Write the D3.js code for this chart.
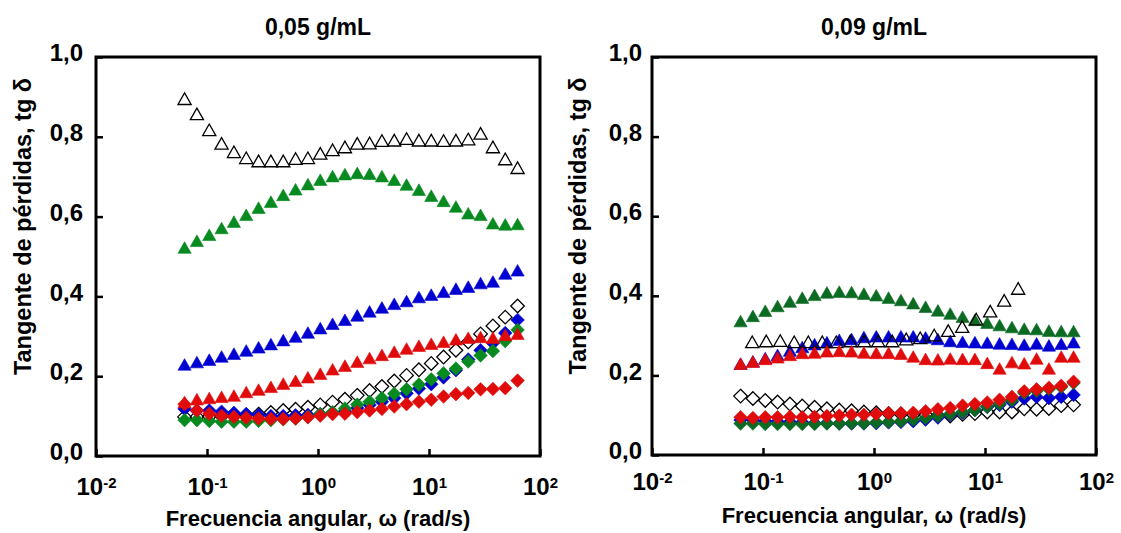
<!DOCTYPE html>
<html>
<head>
<meta charset="utf-8">
<script src="https://cdn.jsdelivr.net/npm/d3@7"></script>
<style>
  body { margin: 0; background: #fff; }
  svg text { font-family: "Liberation Sans", Arial, sans-serif; font-weight: bold; fill: #000; }
</style>
</head>
<body>
<div id="chart"></div>
<script>
// Frecuencias (rad/s) de las series principales
const freq = [0.0628, 0.0811, 0.1048, 0.1353, 0.1748, 0.2257, 0.2915, 0.3765, 0.4862,
  0.628, 0.811, 1.048, 1.353, 1.748, 2.257, 2.915, 3.765, 4.862,
  6.28, 8.11, 10.48, 13.53, 17.48, 22.57, 29.15, 37.65, 48.62, 62.8];
// Frecuencias de los triangulos abiertos en 0,09 g/mL
const freqTri09 = [0.080, 0.107, 0.143, 0.191, 0.256, 0.342, 0.457, 0.611, 0.816, 1.091,
  1.459, 1.951, 2.608, 3.486, 4.661, 6.231, 8.330, 11.14, 14.89, 19.9];

const xTicks = [0.01, 0.1, 1, 10, 100];
const yTicks = [0, 0.2, 0.4, 0.6, 0.8, 1.0];

// 0,05 g/mL
const openTri005 = [0.895, 0.857, 0.817, 0.783, 0.762, 0.747, 0.739, 0.739, 0.739, 0.745, 0.747, 0.758, 0.767, 0.774,
  0.783, 0.784, 0.790, 0.791, 0.795, 0.791, 0.791, 0.790, 0.791, 0.794, 0.808, 0.774, 0.744, 0.722];
const greenTri005 = [0.522, 0.539, 0.554, 0.571, 0.587, 0.604, 0.622, 0.637, 0.654, 0.668, 0.681, 0.692, 0.701, 0.706,
  0.709, 0.707, 0.701, 0.692, 0.680, 0.667, 0.652, 0.639, 0.625, 0.608, 0.604, 0.583, 0.580, 0.581];
const blueTri005 = [0.229, 0.235, 0.241, 0.249, 0.256, 0.264, 0.272, 0.280, 0.290, 0.299, 0.309, 0.320, 0.331, 0.341,
  0.352, 0.362, 0.372, 0.381, 0.388, 0.398, 0.404, 0.411, 0.419, 0.424, 0.433, 0.437, 0.457, 0.465];
const redTri005 = [0.135, 0.142, 0.145, 0.148, 0.151, 0.160, 0.166, 0.173, 0.181, 0.188, 0.197, 0.206, 0.217, 0.226,
  0.236, 0.245, 0.253, 0.261, 0.269, 0.276, 0.281, 0.286, 0.292, 0.296, 0.298, 0.296, 0.303, 0.306];
const openDia005 = [0.098, 0.098, 0.099, 0.100, 0.102, 0.103, 0.105, 0.109, 0.114, 0.117, 0.122, 0.128, 0.135, 0.142,
  0.152, 0.164, 0.174, 0.188, 0.202, 0.216, 0.232, 0.248, 0.265, 0.286, 0.306, 0.326, 0.348, 0.376];
const blueDia005 = [0.118, 0.114, 0.114, 0.111, 0.108, 0.105, 0.103, 0.100, 0.100, 0.102, 0.103, 0.105, 0.108, 0.112,
  0.120, 0.128, 0.136, 0.145, 0.157, 0.169, 0.180, 0.197, 0.215, 0.242, 0.265, 0.283, 0.308, 0.341];
const greenDia005 = [0.090, 0.090, 0.088, 0.086, 0.086, 0.086, 0.088, 0.090, 0.092, 0.094, 0.098, 0.105, 0.110, 0.119,
  0.129, 0.136, 0.145, 0.156, 0.167, 0.179, 0.192, 0.207, 0.219, 0.237, 0.252, 0.263, 0.288, 0.316];
const redDia005 = [0.130, 0.114, 0.106, 0.101, 0.098, 0.096, 0.094, 0.093, 0.093, 0.094, 0.097, 0.101, 0.105, 0.106,
  0.110, 0.114, 0.118, 0.124, 0.130, 0.136, 0.141, 0.149, 0.155, 0.158, 0.167, 0.168, 0.170, 0.189];

// 0,09 g/mL
const openTri009 = [0.284, 0.286, 0.287, 0.284, 0.284, 0.284, 0.284, 0.286, 0.286, 0.286,
  0.286, 0.291, 0.294, 0.301, 0.312, 0.322, 0.341, 0.361, 0.388, 0.418];
const greenTri009 = [0.336, 0.349, 0.362, 0.374, 0.385, 0.395, 0.402, 0.408, 0.410, 0.409, 0.405, 0.401, 0.395, 0.389,
  0.381, 0.372, 0.363, 0.355, 0.347, 0.339, 0.332, 0.326, 0.321, 0.317, 0.316, 0.312, 0.311, 0.311];
const blueTri009 = [0.229, 0.235, 0.243, 0.251, 0.262, 0.271, 0.278, 0.283, 0.289, 0.291, 0.296, 0.298, 0.298, 0.298,
  0.298, 0.295, 0.291, 0.286, 0.284, 0.283, 0.282, 0.280, 0.279, 0.277, 0.280, 0.275, 0.279, 0.283];
const redTri009 = [0.229, 0.234, 0.241, 0.245, 0.251, 0.256, 0.257, 0.260, 0.261, 0.260, 0.257, 0.256, 0.256, 0.254,
  0.247, 0.241, 0.240, 0.242, 0.241, 0.241, 0.231, 0.217, 0.233, 0.230, 0.242, 0.217, 0.247, 0.247];
const openDia009 = [0.148, 0.142, 0.137, 0.133, 0.128, 0.123, 0.120, 0.116, 0.113, 0.111, 0.108, 0.106, 0.104, 0.103,
  0.102, 0.101, 0.099, 0.098, 0.102, 0.104, 0.108, 0.108, 0.108, 0.116, 0.115, 0.117, 0.124, 0.126];
const blueDia009 = [0.088, 0.088, 0.085, 0.084, 0.083, 0.082, 0.080, 0.080, 0.079, 0.079, 0.079, 0.080, 0.082, 0.083,
  0.085, 0.089, 0.094, 0.101, 0.106, 0.113, 0.121, 0.126, 0.134, 0.142, 0.146, 0.143, 0.146, 0.151];
const greenDia009 = [0.079, 0.079, 0.078, 0.078, 0.078, 0.078, 0.078, 0.079, 0.079, 0.080, 0.080, 0.082, 0.083, 0.085,
  0.089, 0.093, 0.098, 0.103, 0.108, 0.113, 0.121, 0.129, 0.138, 0.156, 0.161, 0.166, 0.171, 0.181];
const redDia009 = [0.095, 0.093, 0.095, 0.095, 0.096, 0.095, 0.096, 0.098, 0.099, 0.101, 0.101, 0.103, 0.105, 0.105,
  0.106, 0.110, 0.115, 0.118, 0.124, 0.128, 0.132, 0.139, 0.146, 0.160, 0.165, 0.169, 0.174, 0.184];

const blue = "#0000d2";
const red = "#e00c0c";

const svg = d3.select("#chart")
  .append("svg")
  .attr("width", 1121)
  .attr("height", 533);

// marker shapes (centered on the point)
const triPath = "M0,-6L6.6,5.6L-6.6,5.6Z";
const diaPath = "M0,-6.8L6.8,0L0,6.8L-6.8,0Z";

const panels = [
  {
    title: "0,05 g/mL",
    left: 96, right: 540, top: 57, bottom: 456,
    yPad: 13, xPad: 22, titleY: 35, yTitleX: 31, xTitleY: 526,
    green: "#078a1f",
    series: [
      { x: freq, v: blueTri005, shape: "tri", color: blue },
      { x: freq, v: greenTri005, shape: "tri", color: "green" },
      { x: freq, v: openTri005, shape: "tri", open: true },
      { x: freq, v: openDia005, shape: "dia", open: true },
      { x: freq, v: blueDia005, shape: "dia", color: blue },
      { x: freq, v: greenDia005, shape: "dia", color: "green" },
      { x: freq, v: redTri005, shape: "tri", color: red },
      { x: freq, v: redDia005, shape: "dia", color: red },
    ],
  },
  {
    title: "0,09 g/mL",
    left: 652, right: 1096, top: 57, bottom: 455,
    yPad: 10, xPad: 18, titleY: 35, yTitleX: 586, xTitleY: 523,
    green: "#0b6b22",
    series: [
      { x: freq, v: blueTri009, shape: "tri", color: blue },
      { x: freq, v: greenTri009, shape: "tri", color: "green" },
      { x: freqTri09, v: openTri009, shape: "tri", open: true },
      { x: freq, v: openDia009, shape: "dia", open: true },
      { x: freq, v: blueDia009, shape: "dia", color: blue },
      { x: freq, v: greenDia009, shape: "dia", color: "green" },
      { x: freq, v: redTri009, shape: "tri", color: red },
      { x: freq, v: redDia009, shape: "dia", color: red },
    ],
  },
];

panels.forEach(drawPanel);

function drawPanel(p) {
  const x = d3.scaleLog().domain([0.01, 100]).range([p.left, p.right]);
  const y = d3.scaleLinear().domain([0, 1]).range([p.bottom, p.top]);
  const g = svg.append("g");

  // Series markers
  p.series.forEach((s) => {
    const color = s.color === "green" ? p.green : s.color;
    g.append("g")
      .selectAll("path")
      .data(s.v.map((v, i) => ({ w: s.x[i], v: v })))
      .join("path")
      .attr("transform", (d) => `translate(${x(d.w)},${y(d.v)})`)
      .attr("d", s.shape === "tri" ? triPath : diaPath)
      .attr("fill", s.open ? "none" : color)
      .attr("stroke", s.open ? "#000" : color)
      .attr("stroke-width", s.open ? 1.3 : 0.6);
  });

  // Frame
  g.append("rect")
    .attr("x", p.left)
    .attr("y", p.top)
    .attr("width", p.right - p.left)
    .attr("height", p.bottom - p.top)
    .attr("fill", "none")
    .attr("stroke", "#000")
    .attr("stroke-width", 3);

  // x axis with 10^n labels
  const xAxis = g.append("g")
    .attr("transform", `translate(0,${p.bottom})`)
    .call(d3.axisBottom(x).tickValues(xTicks).tickSize(-7).tickSizeOuter(0).tickPadding(p.xPad).tickFormat(""));
  xAxis.select(".domain").remove();
  xAxis.selectAll(".tick line").attr("stroke-width", 2.5);
  xAxis.selectAll(".tick text")
    .attr("font-size", 24)
    .each(function (d) {
      const t = d3.select(this);
      t.append("tspan").text("10");
      t.append("tspan")
        .attr("dy", "-0.45em")
        .attr("font-size", 15)
        .text(Math.round(Math.log10(d)));
    });

  // y axis
  const yAxis = g.append("g")
    .attr("transform", `translate(${p.left},0)`)
    .call(d3.axisLeft(y).tickValues(yTicks).tickSize(-7).tickSizeOuter(0).tickPadding(p.yPad)
      .tickFormat((d) => d3.format(".1f")(d).replace(".", ",")));
  yAxis.select(".domain").remove();
  yAxis.selectAll(".tick line").attr("stroke-width", 2.5);
  yAxis.selectAll(".tick text").attr("font-size", 24).attr("dy", "0.15em");

  // Titles
  g.append("text")
    .attr("x", (p.left + p.right) / 2)
    .attr("y", p.titleY)
    .attr("text-anchor", "middle")
    .attr("font-size", 23)
    .text(p.title);

  g.append("text")
    .attr("x", (p.left + p.right) / 2)
    .attr("y", p.xTitleY)
    .attr("text-anchor", "middle")
    .attr("font-size", 22)
    .text("Frecuencia angular, ω (rad/s)");

  g.append("text")
    .attr("transform", `translate(${p.yTitleX},${(p.top + p.bottom) / 2 - 30}) rotate(-90)`)
    .attr("text-anchor", "middle")
    .attr("font-size", 23.5)
    .text("Tangente de pérdidas, tg δ");
}
</script>
</body>
</html>
